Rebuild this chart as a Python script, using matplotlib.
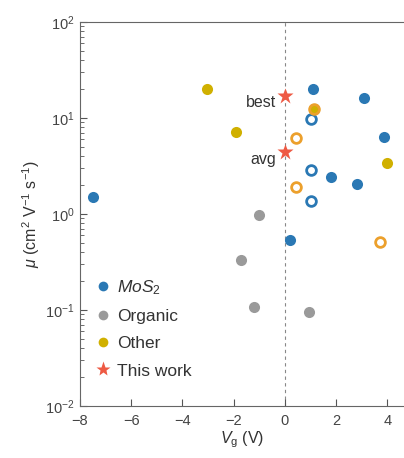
import matplotlib
matplotlib.use("Agg")
import matplotlib.pyplot as plt
from matplotlib.lines import Line2D

plt.rcParams["font.family"] = ["Liberation Sans", "DejaVu Sans"]
plt.rcParams["mathtext.fontset"] = "custom"
plt.rcParams["mathtext.rm"] = "Liberation Sans"
plt.rcParams["mathtext.it"] = "Liberation Sans:italic"
plt.rcParams["mathtext.bf"] = "Liberation Sans:bold"

# Data
mos2_filled_x = [-7.5, 0.2, 1.1, 3.1, 3.85, 1.8, 2.8]
mos2_filled_y = [1.5, 0.54, 20, 16, 6.3, 2.4, 2.05]
mos2_open_x = [1.0, 1.0, 1.0]
mos2_open_y = [9.7, 2.9, 1.37]
other_filled_x = [-3.05, -1.9, 1.15, 4.0]
other_filled_y = [20, 7.2, 12.4, 3.4]
other_open_x = [0.45, 0.45, 3.7, 1.15]
other_open_y = [6.2, 1.9, 0.51, 12.4]
organic_x = [-1.0, -1.7, -1.2, 0.95]
organic_y = [0.97, 0.33, 0.107, 0.095]
this_x = [0.0, 0.0]
this_y = [17, 4.4]
this_labels = ["best", "avg"]

blue = "#2a78b4"
yellow = "#d0b000"
orange = "#eca02c"
gray = "#9a9a9a"
red = "#ee5a44"

fig = plt.figure(figsize=(4.04, 4.58), dpi=100)
ax = fig.add_axes([0.198, 0.1135, 0.802, 0.8385])
ax.set_yscale("log")
ax.set_xlim(-8, 4.65)
ax.set_ylim(1e-2, 1e2)

ax.axvline(0, color="#888888", ls=(0, (3, 3)), lw=0.8, zorder=1)

ms = 8
ax.plot(mos2_filled_x, mos2_filled_y, "o", color=blue, ms=ms, mec="none", zorder=3)
ax.plot(mos2_open_x, mos2_open_y, "o", mfc="white", mec=blue, mew=2, ms=7, zorder=3)
ax.plot(other_filled_x, other_filled_y, "o", color=yellow, ms=ms, mec="none", zorder=3)
ax.plot(other_open_x, other_open_y, "o", mfc="none", mec=orange, mew=2, ms=7, zorder=3)
ax.plot(organic_x, organic_y, "o", color=gray, ms=ms, mec="none", zorder=3)
ax.plot(this_x, this_y, "*", color=red, ms=12, mec="none", zorder=4)
for x, y, t in zip(this_x, this_y, this_labels):
    ax.text(x - 0.35, y * 0.85, t, ha="right", va="center", fontsize=11.5, color="#333333")

handles = [
    Line2D([], [], marker="o", ls="none", color=blue, mec="none", ms=7),
    Line2D([], [], marker="o", ls="none", color=gray, mec="none", ms=7),
    Line2D([], [], marker="o", ls="none", color=yellow, mec="none", ms=7),
    Line2D([], [], marker="*", ls="none", color=red, mec="none", ms=11),
]
labels = [r"$MoS_2$", "Organic", "Other", "This work"]
leg = ax.legend(handles, labels, loc="lower left", bbox_to_anchor=(-0.02, 0.04), frameon=False,
                fontsize=12.5, handletextpad=-0.2, labelspacing=0.7, borderaxespad=0.3)
for t in leg.get_texts():
    t.set_color("#333333")

ax.set_xticks([-8, -6, -4, -2, 0, 2, 4])
ax.set_yticks([1e-2, 1e-1, 1, 10, 100])
ax.tick_params(which="both", direction="in", labelsize=10.5, colors="#555555", labelcolor="#444444")
ax.tick_params(which="major", length=5)
ax.tick_params(which="minor", length=3)
ax.tick_params(axis="x", pad=6)
ax.tick_params(axis="y", pad=4)
ax.spines["right"].set_visible(False)
for s in ["left", "top", "bottom"]:
    ax.spines[s].set_color("#666666")
ax.set_xlabel(r"$V_{\rm g}$ (V)", fontsize=11.5, color="#333333", labelpad=1)
ax.set_ylabel(r"$\mu$ (cm$^2$ V$^{-1}$ s$^{-1}$)", fontsize=11.5, color="#333333", labelpad=2)

fig.savefig("out.png", dpi=100)
